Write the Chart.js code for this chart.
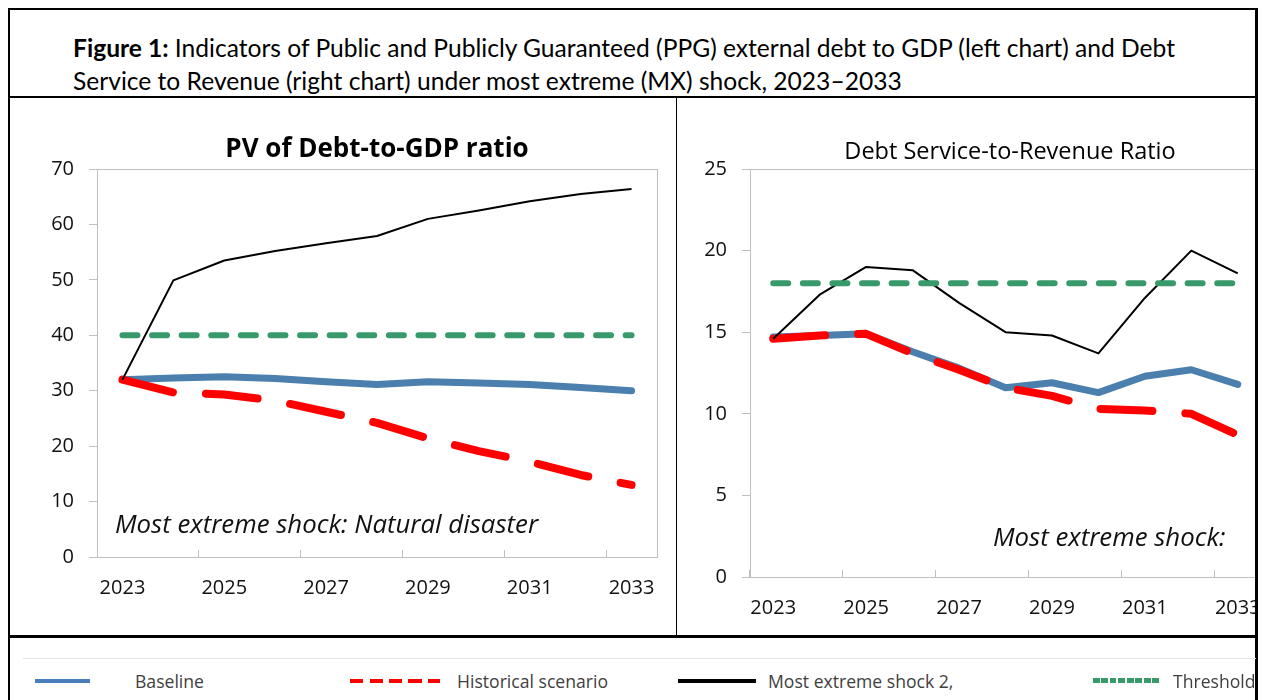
<!DOCTYPE html>
<html>
<head>
<meta charset="utf-8">
<script src="https://cdn.jsdelivr.net/npm/chart.js@4.4.1/dist/chart.umd.min.js"></script>
<style>
  html, body { margin: 0; padding: 0; background: #fff; }
  #page { position: relative; width: 1268px; height: 700px; overflow: hidden; font-family: 'Open Sans', sans-serif; color: #111; }
  .abs { position: absolute; white-space: nowrap; }
  .rule { position: absolute; background: #000; }
  #fig-title { left: 73px; top: 31px; font-family: Lato, sans-serif; font-size: 24.6px; line-height: 33px; color: #000; }
  .chart-title { transform: translate(-50%, -50%); color: #000; }
  .note { font-style: italic; font-size: 25.8px; color: #111; transform: translateY(-50%); }
  .swatch { position: absolute; }
  .leg-text { position: absolute; font-size: 17.6px; color: #404040; transform: translateY(-50%); }
</style>
</head>
<body>
<div id="page">
  <div class="abs" id="fig-title"><b>Figure 1:</b> Indicators of Public and Publicly Guaranteed (PPG) external debt to GDP (left chart) and Debt<br>Service to Revenue (right chart) under most extreme (MX) shock, 2023–2033</div>

  <canvas id="chart-debt" class="abs" width="665" height="536" style="left:10px; top:99px;"></canvas>
  <div class="abs" style="left:677px; top:99px; width:579px; height:536px; overflow:hidden;">
    <canvas id="chart-service" width="610" height="536" style="position:absolute; left:0; top:0;"></canvas>
  </div>

  <div class="abs chart-title" style="left:377px; top:147px; font-size:26px; font-weight:bold;">PV of Debt-to-GDP ratio</div>
  <div class="abs chart-title" style="left:1010px; top:150px; font-size:23.5px;">Debt Service-to-Revenue Ratio</div>
  <div class="abs note" style="left:115px; top:523px;">Most extreme shock: Natural disaster</div>
  <div class="abs note" style="left:993px; top:536px;">Most extreme shock:</div>

  <!-- frame -->
  <div class="rule" style="left:8px; top:8px; width:1250px; height:2px;"></div>
  <div class="rule" style="left:8px; top:8px; width:2px; height:700px;"></div>
  <div class="rule" style="left:1255px; top:8px; width:3px; height:700px;"></div>
  <div class="rule" style="left:8px; top:96px; width:1250px; height:2px;"></div>
  <div class="rule" style="left:676px; top:97px; width:1px; height:540px;"></div>
  <div class="rule" style="left:8px; top:635px; width:1250px; height:3px;"></div>
  <div class="rule" style="left:23px; top:658px; width:1233px; height:1px; background:#e4e4e4;"></div>

  <!-- legend -->
  <div class="swatch" style="left:35px; top:679px; width:55px; height:4px; background:#4a7ebb;"></div>
  <div class="leg-text" style="left:135px; top:681px;">Baseline</div>
  <div class="swatch" style="left:350px; top:679px; width:90px; height:4px; background:repeating-linear-gradient(90deg, #ff0000 0 13px, transparent 13px 19.5px);"></div>
  <div class="leg-text" style="left:457px; top:681px;">Historical scenario</div>
  <div class="swatch" style="left:678px; top:679px; width:78px; height:4px; background:#000;"></div>
  <div class="leg-text" style="left:768px; top:681px;">Most extreme shock 2,</div>
  <div class="swatch" style="left:1093px; top:678px; width:67px; height:5px; background:repeating-linear-gradient(90deg, #38996b 0 6.5px, transparent 6.5px 8.5px);"></div>
  <div class="leg-text" style="left:1173px; top:681px;">Threshold</div>
</div>

<script>
const years = ['2023', '2024', '2025', '2026', '2027', '2028', '2029', '2030', '2031', '2032', '2033'];

// PV of debt-to-GDP ratio (left)
const debtBaseline = [32.0, 32.3, 32.5, 32.2, 31.6, 31.1, 31.6, 31.4, 31.1, 30.6, 30.0];
const debtHistorical = [32.0, 29.7, 29.3, 28.2, 26.2, 24.2, 21.4, 19.1, 17.2, 14.8, 13.0];
const debtShock = [32.0, 49.9, 53.5, 55.2, 56.6, 57.9, 61.0, 62.5, 64.2, 65.5, 66.4];
const debtThreshold = [40, 40, 40, 40, 40, 40, 40, 40, 40, 40, 40];

// Debt service-to-revenue ratio (right)
const serviceBaseline = [14.7, 14.8, 14.9, 13.8, 12.8, 11.6, 11.9, 11.3, 12.3, 12.7, 11.8];
const serviceHistorical = [14.6, 14.8, 14.9, 13.7, 12.7, 11.6, 11.1, 10.3, 10.2, 10.0, 8.7];
const serviceShock = [14.6, 17.3, 19.0, 18.8, 16.8, 15.0, 14.8, 13.7, 17.1, 20.0, 18.6];
const serviceThreshold = [18, 18, 18, 18, 18, 18, 18, 18, 18, 18, 18];

const blue = '#4a7fae';
const red = '#ff0000';
const green = '#38996b';
const axisGray = '#bfbfbf';

Chart.defaults.font.family = "'Open Sans', sans-serif";
Chart.defaults.font.size = 20;
Chart.defaults.color = '#111';

// light grey frame round the plot area
const plotBox = {
    id: 'plotBox',
    beforeDatasetsDraw(chart) {
        const { ctx, chartArea: a } = chart;
        ctx.save();
        ctx.strokeStyle = axisGray;
        ctx.lineWidth = 1;
        ctx.strokeRect(Math.round(a.left) + 0.5, Math.round(a.top) + 0.5, Math.round(a.width), Math.round(a.height));
        ctx.restore();
    },
};

function makeChart(id, cfg) {
    new Chart(document.getElementById(id), {
        type: 'line',
        data: {
            labels: years,
            datasets: [
                { label: 'Baseline', data: cfg.baseline, borderColor: blue, borderWidth: 7, borderCapStyle: 'round', order: 4 },
                { label: 'Historical scenario', data: cfg.historical, borderColor: red, borderWidth: 8, borderDash: [52, 33], borderCapStyle: 'round', order: 3 },
                { label: 'Most extreme shock 2', data: cfg.shock, borderColor: '#000', borderWidth: 2, order: 2 },
                { label: 'Threshold', data: cfg.threshold, borderColor: green, borderWidth: 6, borderDash: [15, 14.6], borderCapStyle: 'round', order: 1 },
            ],
        },
        options: {
            responsive: false,
            animation: false,
            elements: {
                point: { radius: 0 },
                line: { tension: 0, borderJoinStyle: 'round' },
            },
            layout: { padding: { top: 70, right: cfg.padRight, left: 0, bottom: 0 } },
            plugins: {
                legend: { display: false },
                tooltip: { enabled: false },
            },
            scales: {
                x: {
                    offset: true,
                    border: { display: false },
                    grid: {
                        offset: true,
                        drawOnChartArea: false,
                        tickLength: -7,
                        color: (ctx) => (ctx.index % 2 === 0 ? axisGray : 'rgba(0,0,0,0)'),
                    },
                    ticks: {
                        autoSkip: false,
                        maxRotation: 0,
                        padding: 26,
                        callback: (v, i) => (i % 2 === 0 ? years[i] : ''),
                    },
                    afterFit: (scale) => {
                        scale.height = cfg.xHeight;
                        scale.paddingLeft = 0;
                        scale.paddingRight = 0;
                    },
                },
                y: {
                    min: 0,
                    max: cfg.max,
                    border: { display: false },
                    grid: { drawOnChartArea: false, tickLength: 8, color: axisGray },
                    ticks: { stepSize: cfg.step, padding: 15 },
                    afterFit: (scale) => { scale.width = cfg.yWidth; },
                },
            },
        },
        plugins: [plotBox],
    });
}

makeChart('chart-debt', {
    baseline: debtBaseline,
    historical: debtHistorical,
    shock: debtShock,
    threshold: debtThreshold,
    max: 70, step: 10,
    yWidth: 87, xHeight: 78, padRight: 18,
});

makeChart('chart-service', {
    baseline: serviceBaseline,
    historical: serviceHistorical,
    shock: serviceShock,
    threshold: serviceThreshold,
    max: 25, step: 5,
    yWidth: 73, xHeight: 58, padRight: 26,
});
</script>
</body>
</html>
